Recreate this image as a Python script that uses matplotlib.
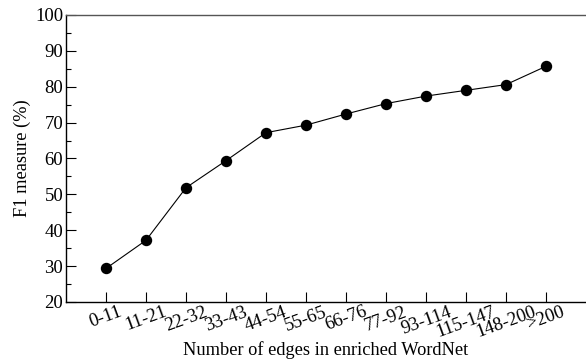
import numpy as np
import matplotlib
matplotlib.use('Agg')
import matplotlib.pyplot as plt
from matplotlib.ticker import MultipleLocator

# Data
edge_bins = ['0-11', '11-21', '22-32', '33-43', '44-54', '55-65', '66-76',
             '77-92', '93-114', '115-147', '148-200', '>200']
f1_scores = [29.35, 37.2, 51.85, 59.4, 67.2, 69.3, 72.4, 75.3, 77.4, 79.0, 80.6, 85.7]

plt.rcParams['font.family'] = ['Liberation Serif', 'DejaVu Serif']

fig = plt.figure(figsize=(5.86, 3.61), dpi=100)
ax = fig.add_axes([66 / 586, 59 / 361, 520 / 586, 287 / 361])

x = np.arange(len(edge_bins))
ax.plot(x, f1_scores, color='black', linewidth=0.8, marker='o', markersize=7.2)

ax.set_xlim(-1, 12)
ax.set_ylim(20, 100)
ax.set_xticks(x)
ax.set_xticklabels(edge_bins, rotation=20, ha='center')
ax.yaxis.set_major_locator(MultipleLocator(10))
ax.yaxis.set_minor_locator(MultipleLocator(5))

ax.tick_params(axis='both', which='major', direction='in', length=7.5,
               width=0.8, labelsize=13.5, pad=2)
ax.tick_params(axis='y', which='minor', direction='in', length=3.8, width=0.8)
ax.tick_params(axis='x', pad=1)

ax.spines['right'].set_visible(False)
for side in ['top', 'left', 'bottom']:
    ax.spines[side].set_linewidth(1.0)
ax.spines['top'].set_color('#555555')

ax.set_xlabel('Number of edges in enriched WordNet', fontsize=13.2, labelpad=0)
ax.set_ylabel('F1 measure (%)', fontsize=13.2, labelpad=3)

fig.savefig('out.png', dpi=100)
